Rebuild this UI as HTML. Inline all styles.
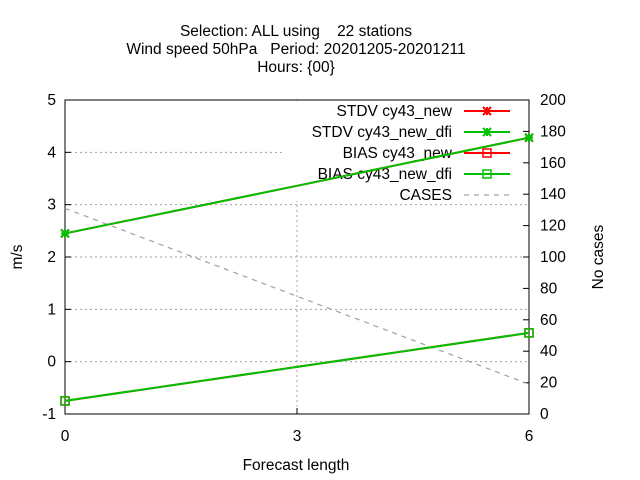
<!DOCTYPE html>
<html><head><meta charset="utf-8"><style>
body{margin:0;background:#fff}
svg{display:block;font-family:"Liberation Sans",sans-serif;font-size:15.5px}
</style></head><body>
<svg id="c" width="640" height="480" viewBox="0 0 640 480">
<rect width="640" height="480" fill="#fff"/>
<g id="title" text-anchor="middle">
<text x="296" y="36" xml:space="preserve">Selection: ALL using    22 stations</text>
<text x="296" y="54" xml:space="preserve">Wind speed 50hPa   Period: 20201205-20201211</text>
<text x="296" y="72">Hours: {00}</text>
</g>
<g id="grid"></g><g id="legbg"></g><g id="axes"></g><g id="legend"></g><g id="series"></g>
<text x="296" y="470" text-anchor="middle">Forecast length</text>
<text transform="translate(22,257) rotate(-90)" text-anchor="middle">m/s</text>
<text transform="translate(603,257) rotate(-90)" text-anchor="middle">No cases</text>
</svg>
<script>
const xCats=[0,3,6];
const stdvNew=[2.45,3.36,4.28];
const stdvDfi=[2.45,3.36,4.28];
const biasNew=[-0.75,-0.1,0.55];
const biasDfi=[-0.75,-0.1,0.55];
const cases=[131,75,19];
const yTicks=[-1,0,1,2,3,4,5];
const y2Ticks=[0,20,40,60,80,100,120,140,160,180,200];
const xTicks=[0,3,6];
const NS="http://www.w3.org/2000/svg";
const L=65,R=529,T=100,B=414;
const X=v=>L+(v-0)/(6-0)*(R-L);
const Y=v=>B-(v+1)/6*(B-T);
const Y2=v=>B-v/200*(B-T);
function mk(p,t,a){const e=document.createElementNS(NS,t);for(const k in a)e.setAttribute(k,a[k]);p.appendChild(e);return e;}
const grid=document.getElementById('grid'),axes=document.getElementById('axes'),ser=document.getElementById('series'),leg=document.getElementById('legend'),legbg=document.getElementById('legbg');
yTicks.forEach(v=>{if(v>-1&&v<5){const g=mk(grid,'line',{x1:L,x2:R,y1:Y(v),y2:Y(v),stroke:'#a0a0a0','stroke-dasharray':'2,3'});

}
mk(axes,'line',{x1:L,x2:L+6,y1:Y(v),y2:Y(v),stroke:'#000'});
const t=mk(axes,'text',{x:56,y:Y(v)+5,'text-anchor':'end'});t.textContent=v;

});
y2Ticks.forEach(v=>{mk(axes,'line',{x1:R-6,x2:R,y1:Y2(v),y2:Y2(v),stroke:'#000'});
const t=mk(axes,'text',{x:540,y:Y2(v)+5});t.textContent=v;

});
xTicks.forEach(v=>{if(v>0&&v<6){const g=mk(grid,'line',{x1:X(v),x2:X(v),y1:T,y2:B,stroke:'#a0a0a0','stroke-dasharray':'2,3'});

}
mk(axes,'line',{x1:X(v),x2:X(v),y1:B,y2:B-6,stroke:'#000'});
const t=mk(axes,'text',{x:X(v),y:441,'text-anchor':'middle'});t.textContent=v;

});
mk(legbg,'rect',{x:285,y:101,width:243,height:100,fill:'#fff'});
const fr=mk(axes,'rect',{x:L,y:T,width:R-L,height:B-T,fill:'none',stroke:'#000'});


function star(p,x,y,c){mk(p,'path',{d:`M${x-4},${y-4}L${x+4},${y+4}M${x-4},${y+4}L${x+4},${y-4}M${x-4},${y}L${x+4},${y}M${x},${y-4}L${x},${y+4}`,stroke:c,'stroke-width':2});}
function sq(p,x,y,c){mk(p,'rect',{x:x-4,y:y-4,width:8,height:8,fill:'none',stroke:c,'stroke-width':1.5});}
function series(vals,yf,c,mark,name,dash){const g=mk(ser,'g',{});


mk(g,'polyline',{points:vals.map((v,i)=>X(xCats[i])+','+yf(v)).join(' '),fill:'none',stroke:c,'stroke-width':dash?1.2:2,'stroke-dasharray':dash||'none'});
if(mark)vals.forEach((v,i)=>{if(i!==1)mark(g,X(xCats[i]),yf(v),c);});}
series(cases,Y2,'#a0a0a0',null,'series-cases','5,5');
series(stdvNew,Y,'#ff0000',star,'series-stdv-cy43-new');
series(biasNew,Y,'#ff0000',sq,'series-bias-cy43-new');
series(stdvDfi,Y,'#00c000',star,'series-stdv-cy43-new-dfi');
series(biasDfi,Y,'#00c000',sq,'series-bias-cy43-new-dfi');
const items=[['STDV cy43_new','#ff0000',star],['STDV cy43_new_dfi','#00c000',star],['BIAS cy43_new','#ff0000',sq],['BIAS cy43_new_dfi','#00c000',sq],['CASES','#a0a0a0',null]];
items.forEach((it,i)=>{const y=111+i*21;const g=mk(leg,'g',{});


const t=mk(g,'text',{x:452,y:y+5,'text-anchor':'end'});t.textContent=it[0];
mk(g,'line',{x1:464,x2:510,y1:y,y2:y,stroke:it[1],'stroke-width':it[2]?2:1.2,'stroke-dasharray':it[2]?'none':'5,5'});
if(it[2])it[2](g,487,y,it[1]);});
</script>
</body></html>
